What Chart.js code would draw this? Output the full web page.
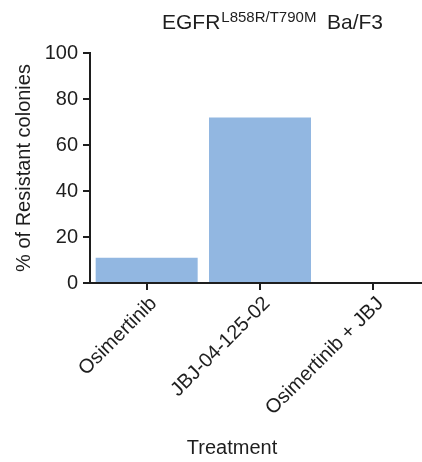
<!DOCTYPE html>
<html>
<head>
<meta charset="utf-8">
<script src="https://cdn.jsdelivr.net/npm/chart.js@4.4.1/dist/chart.umd.min.js"></script>
<style>
  html, body { margin: 0; padding: 0; background: #fff; overflow: hidden; }
  #wrap { position: relative; width: 430px; height: 462px; }
</style>
</head>
<body>
<div id="wrap"><canvas id="chart"></canvas></div>
<script>
// data
const treatments = ["Osimertinib", "JBJ-04-125-02", "Osimertinib + JBJ"];
const resistantPct = [11, 72, 0];
const yTicks = [0, 20, 40, 60, 80, 100];

const titleMain = "EGFR", titleSup = "L858R/T790M", titleTail = "Ba/F3";
const xTitle = "Treatment";
const ink = "#1e1e1e";
const fontFamily = "'Liberation Sans', Arial, Helvetica, sans-serif";

// title with superscript + x axis title (it sits left of the axis centre in the figure)
const extraText = {
  id: "extraText",
  afterDraw(c) {
    const ctx = c.ctx;
    ctx.save();
    ctx.fillStyle = ink;
    ctx.textBaseline = "alphabetic";
    ctx.textAlign = "left";
    ctx.font = "21px " + fontFamily;
    ctx.fillText(titleMain, 162, 29);
    let x = 162 + ctx.measureText(titleMain).width + 1;
    ctx.font = "15px " + fontFamily;
    ctx.fillText(titleSup, x, 22);
    ctx.font = "21px " + fontFamily;
    ctx.fillText(titleTail, 327, 29);

    ctx.font = "20px " + fontFamily;
    ctx.textAlign = "center";
    ctx.fillText(xTitle, 232, 454);
    ctx.restore();
  }
};

chart = new Chart(document.getElementById("chart"), {
  type: "bar",
  data: {
    labels: treatments,
    datasets: [{
      data: resistantPct,
      backgroundColor: "#92b7e1",
      borderWidth: 0,
      barPercentage: 0.9,
      categoryPercentage: 1.0
    }]
  },
  options: {
    responsive: true,
    maintainAspectRatio: false,
    animation: false,
    layout: { padding: { top: 53, right: 0, left: 0, bottom: 0 } },
    plugins: { legend: { display: false }, tooltip: { enabled: false } },
    scales: {
      x: {
        offset: true,
        grid: { display: true, drawOnChartArea: false, drawTicks: true, tickLength: 7, color: ink, lineWidth: 2, offset: false },
        border: { display: true, color: ink, width: 2 },
        ticks: { color: ink, font: { family: fontFamily, size: 20 }, minRotation: 45, maxRotation: 45, padding: 2, labelOffset: 7 },
        afterFit(s) { s.height = 179; }
      },
      y: {
        min: 0,
        max: 100,
        afterBuildTicks(s) { s.ticks = yTicks.map(v => ({ value: v })); },
        grid: { display: true, drawOnChartArea: false, drawTicks: true, tickLength: 7, color: ink, lineWidth: 2 },
        border: { display: true, color: ink, width: 2 },
        ticks: { color: ink, font: { family: fontFamily, size: 20 }, padding: 5 },
        title: { display: true, text: "% of Resistant colonies", color: ink, font: { family: fontFamily, size: 20 }, padding: { top: 12, bottom: 0 } },
        afterFit(s) { s.width = 90; }
      }
    }
  },
  plugins: [extraText]
});
</script>
</body>
</html>
